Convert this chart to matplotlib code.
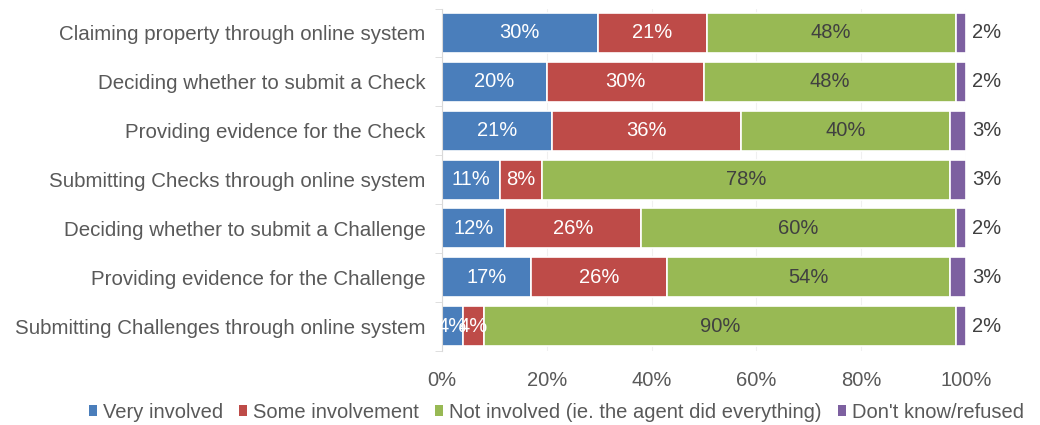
import matplotlib
matplotlib.use("Agg")
from matplotlib import pyplot as plt
from matplotlib.patches import Patch
import numpy as np

plt.rcParams['font.family'] = ['Liberation Sans', 'DejaVu Sans']

categories = [
    "Claiming property through online system",
    "Deciding whether to submit a Check",
    "Providing evidence for the Check",
    "Submitting Checks through online system",
    "Deciding whether to submit a Challenge",
    "Providing evidence for the Challenge",
    "Submitting Challenges through online system",
]
very_involved = [30, 20, 21, 11, 12, 17, 4]
some_involvement = [21, 30, 36, 8, 26, 26, 4]
not_involved = [48, 48, 40, 78, 60, 54, 90]
dont_know = [2, 2, 3, 3, 2, 3, 2]

series_names = ["Very involved", "Some involvement",
                "Not involved (ie. the agent did everything)", "Don't know/refused"]
colors = ["#4A7EBB", "#BE4B48", "#98B954", "#7D60A0"]
label_colors = ["white", "white", "#404040", "#404040"]
text_grey = "#595959"
fs = 14.5

data = np.array([very_involved, some_involvement, not_involved, dont_know], dtype=float)
# stacked to 100% of each row
shares = data / data.sum(axis=0) * 100

fig = plt.figure(figsize=(10.4, 4.25), dpi=100)
ax = fig.add_axes([0.425, 0.175, 0.504, 0.805])

y = np.arange(len(categories))
left = np.zeros(len(categories))
for i, (name, color) in enumerate(zip(series_names, colors)):
    ax.barh(y, shares[i], left=left, height=0.82, color=color,
            edgecolor="white", linewidth=1.2, label=name)
    for j in range(len(categories)):
        txt = f"{int(data[i, j])}%"
        if i == 3:
            ax.text(left[j] + shares[i, j] + 1.2, y[j], txt, ha="left", va="center",
                    color=label_colors[i], fontsize=fs)
        else:
            ax.text(left[j] + shares[i, j] / 2, y[j], txt, ha="center", va="center",
                    color=label_colors[i], fontsize=fs)
    left += shares[i]

ax.set_xlim(0, 100)
ax.set_ylim(len(categories) - 0.5, -0.5)
ax.set_xticks(np.arange(0, 101, 20))
ax.set_xticklabels([f"{v}%" for v in range(0, 101, 20)])
ax.set_yticks(y)
ax.set_yticklabels(categories)
ax.set_yticks(np.arange(-0.5, len(categories)), minor=True)

for side in ["top", "right", "bottom"]:
    ax.spines[side].set_visible(False)
ax.spines["left"].set_color("#D9D9D9")
ax.tick_params(axis="x", length=0, pad=15, labelsize=fs, labelcolor=text_grey)
ax.tick_params(axis="y", which="major", length=0, pad=12, labelsize=14.8, labelcolor=text_grey)
ax.tick_params(axis="y", which="minor", length=5, color="#D9D9D9")
ax.xaxis.grid(True, color="#F0F0F0", linewidth=0.8)
ax.set_axisbelow(True)

handles = [Patch(facecolor=c, edgecolor="none") for c in colors]
fig.legend(handles, series_names, loc="lower center", bbox_to_anchor=(0.535, -0.035),
           ncol=4, frameon=False, fontsize=fs, labelcolor=text_grey,
           handlelength=0.4, handleheight=0.4, handletextpad=0.3, columnspacing=0.8)

fig.savefig("out.png", dpi=100)
